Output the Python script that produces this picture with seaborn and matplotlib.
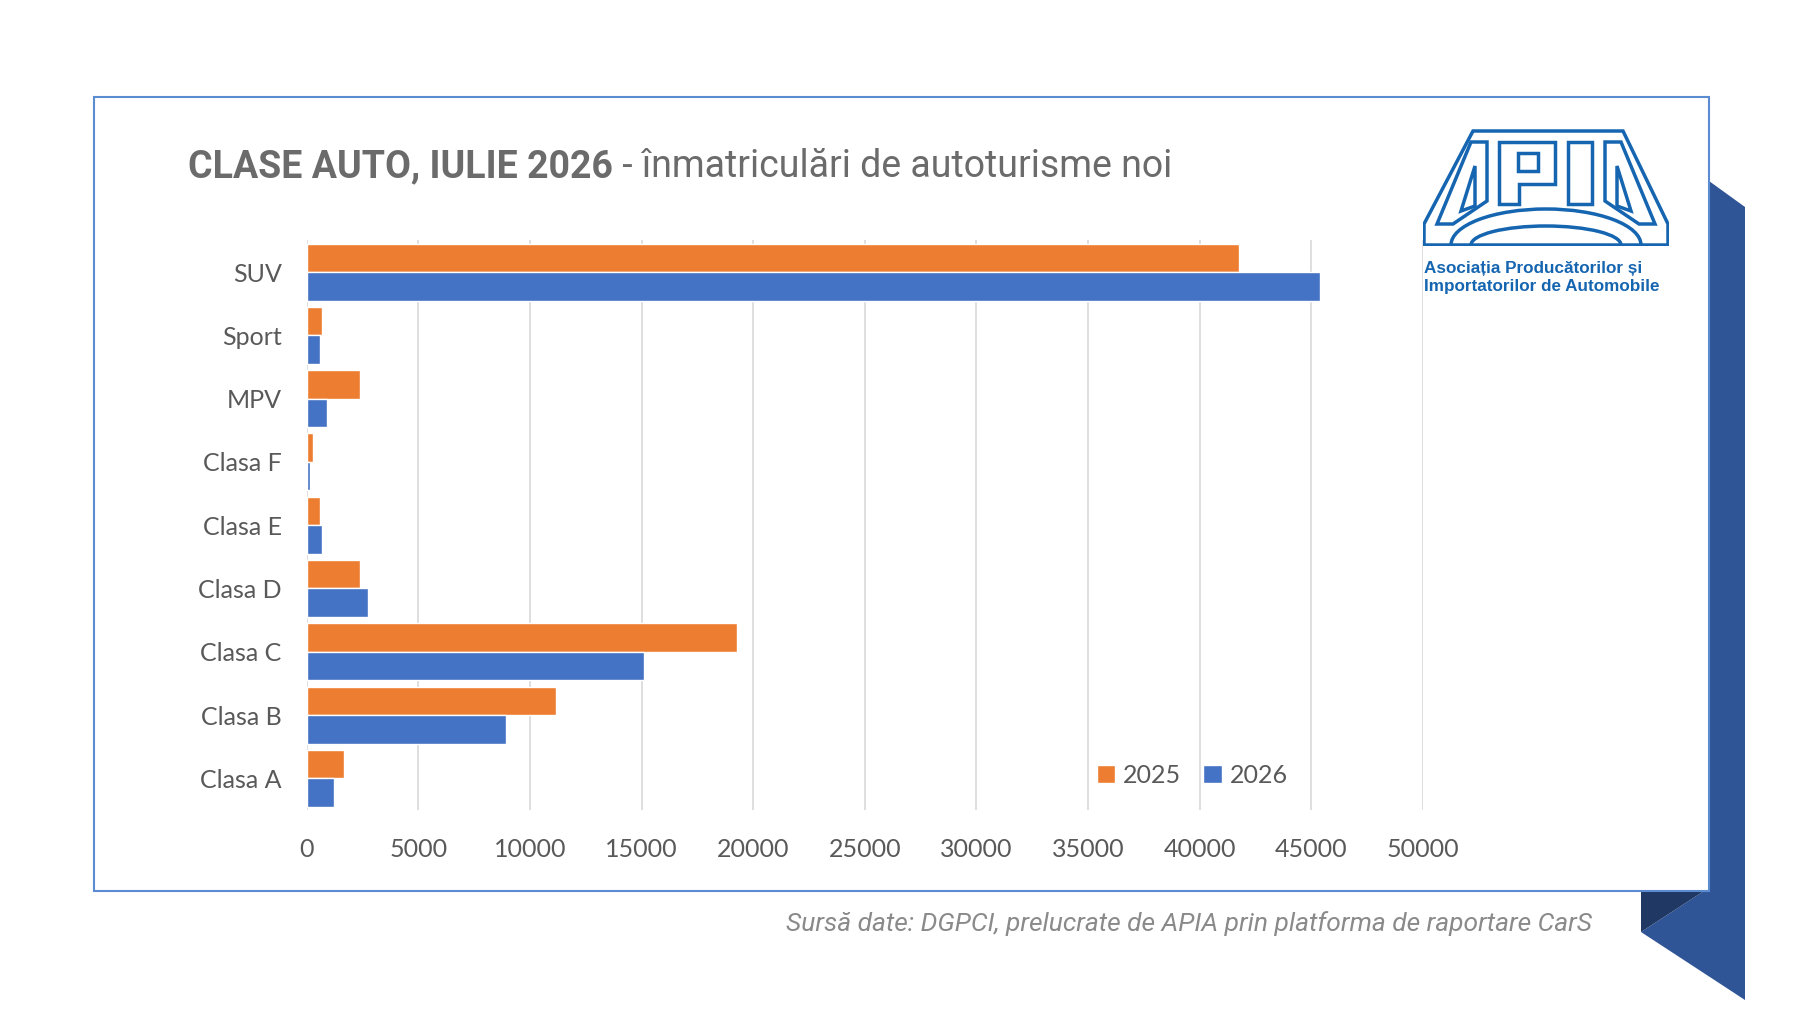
import pandas as pd
import matplotlib.pyplot as plt
import seaborn as sns
from matplotlib.patches import Polygon, Rectangle, Arc

# date: înmatriculări pe clase auto, iulie 2025 vs iulie 2026
clase = ['SUV', 'Sport', 'MPV', 'Clasa F', 'Clasa E', 'Clasa D', 'Clasa C', 'Clasa B', 'Clasa A']
valori_2025 = [41780, 680, 2370, 300, 600, 2370, 19265, 11190, 1670]
valori_2026 = [45410, 600, 930, 160, 680, 2750, 15095, 8920, 1225]
ani = ['2025', '2026']
culori = ['#ED7D31', '#4472C4']
xticks = list(range(0, 50001, 5000))

df = pd.DataFrame({
    'Clasa': clase * 2,
    'An': [ani[0]] * len(clase) + [ani[1]] * len(clase),
    'Inmatriculari': valori_2025 + valori_2026,
})

sns.set_style('white')
W, H = 1800, 1013
fig = plt.figure(figsize=(W / 100, H / 100), dpi=100)

# fundal in coordonate pixel (panglica albastra + chenar)
bg = fig.add_axes([0, 0, 1, 1], zorder=-1)
bg.set_xlim(0, W)
bg.set_ylim(H, 0)
bg.axis('off')
bg.add_patch(Polygon([(1709, 181), (1745, 207), (1745, 1000), (1641, 932), (1704, 891), (1709, 891)],
                     closed=True, facecolor='#2F5597', edgecolor='none'))
bg.add_patch(Polygon([(1641, 891), (1704, 891), (1641, 932)], closed=True,
                     facecolor='#203864', edgecolor='none'))
bg.add_patch(Rectangle((94, 96.5), 1615, 794.5, facecolor='white', edgecolor='#5B8BD0', lw=1.5))

# graficul
ax = fig.add_axes([306.7 / W, 1 - 810 / H, 1116 / W, 569.6 / H])
ax.set_facecolor('none')
sns.barplot(data=df, y='Clasa', x='Inmatriculari', hue='An', order=clase, hue_order=ani,
            palette=culori, width=0.9, saturation=1, ax=ax, errorbar=None)
ax.set_xlim(0, 50000)
ax.set_ylim(len(clase) - 0.5, -0.5)
ax.set_xticks(xticks)
ax.set_xticklabels([str(t) for t in xticks])
ax.grid(axis='x', color='#D9D9D9', lw=1.2)
ax.grid(axis='y', visible=False)
ax.set_axisbelow(True)
for s in ax.spines.values():
    s.set_visible(False)
ax.tick_params(length=0, labelsize=18, colors='#595959')
ax.tick_params(axis='x', pad=20)
ax.tick_params(axis='y', pad=18)
for lbl in ax.get_xticklabels() + ax.get_yticklabels():
    lbl.set_family(['Lato', 'DejaVu Sans'])
ax.set_xlabel('')
ax.set_ylabel('')

handles, labels = ax.get_legend_handles_labels()
ax.legend_.remove()
fig.legend(handles, labels, loc='center left', bbox_to_anchor=(1074 / W, 1 - 775 / H),
           ncol=2, frameon=False, handlelength=0.75, handleheight=0.75, handletextpad=0.3,
           columnspacing=0.9, prop={'family': 'Lato', 'size': 18}, labelcolor='#595959')

# titlu (parte bold + parte normala)
t1 = fig.text(188 / W, 1 - 177 / H, 'CLASE AUTO, IULIE 2026', fontsize=27, fontweight='bold',
              color='#6B6B6B', family='Roboto', va='baseline')
fig.canvas.draw()
bb = t1.get_window_extent()
fig.text(bb.x1 / W, 1 - 177 / H, ' - înmatriculări de autoturisme noi', fontsize=27,
         color='#6B6B6B', family='Roboto', va='baseline')

# sursa
fig.text(1592 / W, 1 - 924 / H, 'Sursă date: DGPCI, prelucrate de APIA prin platforma de raportare CarS',
         fontsize=19, style='italic', color='#8A8A8A', family='Roboto', ha='right', va='center')

# sigla APIA (simplificata)
albastru = '#1565B0'
lg = fig.add_axes([1423 / W, 1 - 246 / H, 246 / W, 118 / H])
lg.set_xlim(0, 246)
lg.set_ylim(0, 118)
lg.axis('off')
kw = dict(fill=False, edgecolor=albastru, lw=2.5, joinstyle='miter')
lg.add_patch(Polygon([(1, 1), (245, 1), (245, 22), (200, 115), (50, 115), (1, 22)], closed=True, **kw))
lg.add_patch(Arc((123, 1), 190, 72, theta1=0, theta2=180, edgecolor=albastru, lw=2.5))
lg.add_patch(Arc((123, 1), 150, 38, theta1=0, theta2=180, edgecolor=albastru, lw=2.5))
lg.add_patch(Polygon([(14, 22), (48, 104), (64, 104), (64, 45), (30, 22)], closed=True, **kw))
lg.add_patch(Polygon([(38, 35), (52, 80), (52, 40)], closed=True, **kw))
lg.add_patch(Polygon([(232, 22), (198, 104), (182, 104), (182, 45), (216, 22)], closed=True, **kw))
lg.add_patch(Polygon([(208, 35), (194, 80), (194, 40)], closed=True, **kw))
lg.add_patch(Polygon([(76, 42), (76, 104), (132, 104), (132, 62), (96, 62), (96, 42)], closed=True, **kw))
lg.add_patch(Rectangle((95, 75), 20, 18, **kw))
lg.add_patch(Rectangle((145, 42), 24, 62, **kw))
fig.text(1424 / W, 1 - 268 / H, 'Asociația Producătorilor și', fontsize=12.3, fontweight='bold',
         color=albastru, family='Liberation Sans', va='center')
fig.text(1424 / W, 1 - 286 / H, 'Importatorilor de Automobile', fontsize=12.3, fontweight='bold',
         color=albastru, family='Liberation Sans', va='center')

plt.savefig('out.png', dpi=100, facecolor='white')
